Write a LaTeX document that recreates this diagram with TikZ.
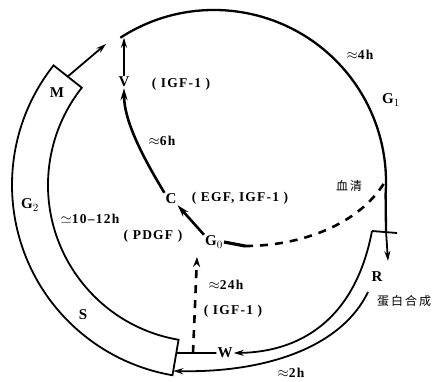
\documentclass[tikz,border=0pt]{standalone}
\usepackage{amsmath,amssymb}
\usepackage{fontspec}
\usepackage{tikz}
\setmainfont{Liberation Serif}
\newfontfamily\labfont{Liberation Serif}[LetterSpace=9]
\newfontfamily\cjk{Noto Sans CJK SC}
\usetikzlibrary{arrows.meta,calc}

\tikzset{
  lab/.style={font=\labfont\bfseries\fontsize{13.5}{15}\selectfont, inner sep=1pt},
  letter/.style={font=\bfseries\fontsize{15}{17}\selectfont, inner sep=1pt},
  cjklab/.style={font=\cjk\fontsize{12}{14}\selectfont, inner sep=1pt},
  ring/.style={line width=2.3pt},
  band/.style={line width=1.8pt},
  arr/.style={line width=1.8pt, -{Stealth[length=10pt,width=6pt]}},
  heavyarr/.style={line width=2.6pt, -{Stealth[length=12pt,width=7pt]}},
  serumdash/.style={line width=2.6pt, dash pattern=on 8pt off 7pt},
}

\begin{document}
\begin{tikzpicture}[x=1pt,y=1pt]
    \useasboundingbox (0,0) rectangle (435,-381);
    \coordinate (ctr) at (214,-182);
    \coordinate (bctr) at (205,-185);

    % cycle circle, V checkpoint round to R
    \path (ctr) ++(123:172) coordinate (vtick);
    \coordinate (rtick) at (386,-231);
    \draw[ring] (vtick) arc[start angle=123, end angle=-4, radius=172] -- (rtick);
    \coordinate (rbarL) at (372,-231);
    \coordinate (rbarR) at (397,-233);
    \draw[band] (rbarL) -- (rbarR);
    \coordinate (rdown) at (388,-261);
    \draw[arr] (rtick) -- (rdown);

    % G2 / S / M band
    \path (bctr) ++(141.7:193) coordinate (mo);
    \path (bctr) ++(141.7:157) coordinate (mi);
    \path (bctr) ++(141.7:175) coordinate (mcap);
    \path (bctr) ++(260.3:193) coordinate (so);
    \path (bctr) ++(260.3:157) coordinate (si);
    \draw[band] (mi) -- (mo) arc[start angle=141.7, end angle=260.3, radius=193]
        -- (si) arc[start angle=260.3, end angle=141.7, radius=157] -- cycle;
    \coordinate (wcap) at ($(so)!0.63!(si)$);
    \coordinate (scap) at ($(so)!0.12!(si)$);
    \coordinate (mtip) at (106,-44);
    \draw[arr] (mcap) -- (mtip);

    \node[letter] (M) at (57,-93) {M};
    \node[letter] (G2) at (30,-205) {G$_2$};
    \node[letter] (S) at (83,-315) {S};
    \node[lab] (tenh) at (90,-219) {$\simeq$10\textendash12h};
    \node[lab] (pdgf) at (153,-236) {( PDGF )};

    % V, C and G0
    \node[letter] (V) at (124,-82) {V};
    \node[lab] (Vf) at (181,-84) {( IGF-1 )};
    \node[lab] (sixh) at (162,-141) {$\approx$6h};
    \node[letter] (C) at (171,-199) {C};
    \node[lab] (Cf) at (240,-198) {( EGF, IGF-1 )};
    \node[letter] (G0) at (214,-242) {G$_0$};
    \draw[arr] (V.north) -- (V.north |- vtick);
    \draw[heavyarr] (C.north west) .. controls +(-18,30) and +(0,-35) .. (V.south);
    \draw[heavyarr] (G0.north west) -- (C.south east);

    % serum path from G0 to the circle
    \coordinate (stub) at (245,-246);
    \coordinate (serumend) at (386,-180);
    \draw[line width=3.2pt] (G0.east) -- (stub);
    \draw[serumdash] (stub) .. controls (300,-246) and (360,-225) .. (serumend);
    \node[cjklab] (serum) at (349,-186) {血\,清};

    % R, W and the 24h return
    \node[letter] (R) at (377,-277) {R};
    \node[cjklab] (prot) at (404,-301) {蛋\,白\,合\,成};
    \node[letter] (W) at (225,-353) {W};
    \node[lab] (fourh) at (360,-55) {$\approx$4h};
    \node[letter] (G1) at (391,-100) {G$_1$};
    \node[lab] (twoh) at (291,-373) {$\approx$2h};
    \node[lab] (tfh) at (226,-285) {$\approx$24h};
    \node[lab] (igf) at (233,-311) {( IGF-1 )};

    \draw[arr] (rbarL) .. controls (355,-320) and (300,-352) .. (W.east);
    \coordinate (protstart) at (368,-292);
    \draw[arr] (protstart) .. controls (340,-350) and (260,-373) .. (scap);
    \draw[band] (W.west) -- (wcap);
    \coordinate (dbase) at (193,-353);
    \coordinate (g0foot) at (197,-257);
    \draw[serumdash, -{Stealth[length=10pt,width=7pt]}] (dbase) -- (g0foot);
\end{tikzpicture}
\end{document}
